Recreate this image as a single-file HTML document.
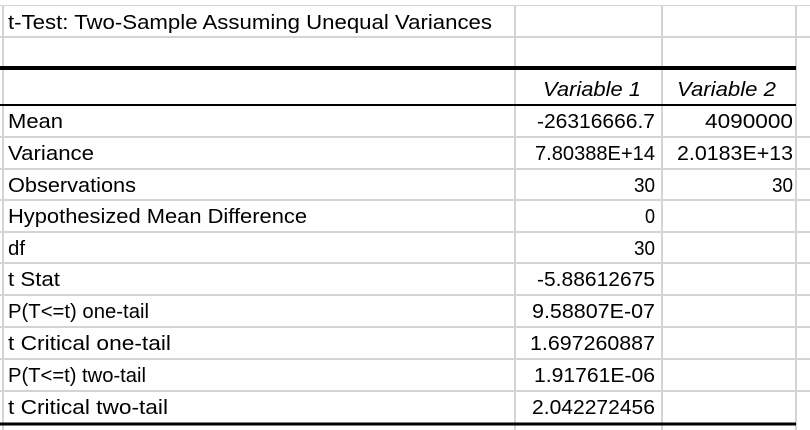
<!DOCTYPE html>
<html><head><meta charset="utf-8"><style>
html,body{margin:0;padding:0;background:#fff;width:810px;height:430px;overflow:hidden}
text{font-family:"Liberation Sans",sans-serif;font-size:20px;fill:#000}
</style></head><body>
<svg width="810" height="430">
<g stroke="#d4d4d4" stroke-width="2">
<line x1="0" y1="5" x2="810" y2="5"/>
<line x1="0" y1="37" x2="810" y2="37"/>
<line x1="0" y1="137" x2="810" y2="137"/>
<line x1="0" y1="169" x2="810" y2="169"/>
<line x1="0" y1="200" x2="810" y2="200"/>
<line x1="0" y1="232" x2="810" y2="232"/>
<line x1="0" y1="263" x2="810" y2="263"/>
<line x1="0" y1="295" x2="810" y2="295"/>
<line x1="0" y1="327" x2="810" y2="327"/>
<line x1="0" y1="359" x2="810" y2="359"/>
<line x1="0" y1="391" x2="810" y2="391"/>
<line x1="3" y1="0" x2="3" y2="430"/>
<line x1="515" y1="0" x2="515" y2="430"/>
<line x1="662" y1="0" x2="662" y2="430"/>
<line x1="796" y1="0" x2="796" y2="430"/>
</g>
<rect x="0" y="0" width="810" height="5" fill="#fff"/>
<line x1="0" y1="68" x2="796" y2="68" stroke="#000" stroke-width="4"/>
<line x1="0" y1="105" x2="796" y2="105" stroke="#000" stroke-width="2"/>
<line x1="0" y1="424" x2="796" y2="424" stroke="#000" stroke-width="3"/>
<text x="8" y="29" textLength="484" lengthAdjust="spacingAndGlyphs">t-Test: Two-Sample Assuming Unequal Variances</text>
<text x="543" y="96" textLength="98" lengthAdjust="spacingAndGlyphs" font-style="italic">Variable 1</text>
<text x="677" y="96" textLength="99" lengthAdjust="spacingAndGlyphs" font-style="italic">Variable 2</text>
<g>
<text x="8" y="128" textLength="55" lengthAdjust="spacingAndGlyphs">Mean</text>
<text x="8" y="160" textLength="86" lengthAdjust="spacingAndGlyphs">Variance</text>
<text x="8" y="192" textLength="128" lengthAdjust="spacingAndGlyphs">Observations</text>
<text x="8" y="223" textLength="299" lengthAdjust="spacingAndGlyphs">Hypothesized Mean Difference</text>
<text x="8" y="255" textLength="17" lengthAdjust="spacingAndGlyphs">df</text>
<text x="8" y="286" textLength="52" lengthAdjust="spacingAndGlyphs">t Stat</text>
<text x="8" y="318" textLength="141" lengthAdjust="spacingAndGlyphs">P(T&lt;=t) one-tail</text>
<text x="8" y="350" textLength="163" lengthAdjust="spacingAndGlyphs">t Critical one-tail</text>
<text x="8" y="382" textLength="138" lengthAdjust="spacingAndGlyphs">P(T&lt;=t) two-tail</text>
<text x="8" y="414" textLength="160" lengthAdjust="spacingAndGlyphs">t Critical two-tail</text>
</g>
<g text-anchor="end">
<text x="655" y="128" textLength="118" lengthAdjust="spacingAndGlyphs">-26316666.7</text>
<text x="655" y="160" textLength="120" lengthAdjust="spacingAndGlyphs">7.80388E+14</text>
<text x="655" y="192" textLength="21" lengthAdjust="spacingAndGlyphs">30</text>
<text x="655" y="223" textLength="10" lengthAdjust="spacingAndGlyphs">0</text>
<text x="655" y="255" textLength="21" lengthAdjust="spacingAndGlyphs">30</text>
<text x="655" y="286" textLength="118" lengthAdjust="spacingAndGlyphs">-5.88612675</text>
<text x="655" y="318" textLength="123" lengthAdjust="spacingAndGlyphs">9.58807E-07</text>
<text x="655" y="350" textLength="125" lengthAdjust="spacingAndGlyphs">1.697260887</text>
<text x="655" y="382" textLength="121" lengthAdjust="spacingAndGlyphs">1.91761E-06</text>
<text x="655" y="414" textLength="123" lengthAdjust="spacingAndGlyphs">2.042272456</text>
</g>
<g text-anchor="end">
<text x="793" y="128" textLength="88" lengthAdjust="spacingAndGlyphs">4090000</text>
<text x="793" y="160" textLength="116" lengthAdjust="spacingAndGlyphs">2.0183E+13</text>
<text x="793" y="192" textLength="21" lengthAdjust="spacingAndGlyphs">30</text>
</g>
</svg>
</body></html>
